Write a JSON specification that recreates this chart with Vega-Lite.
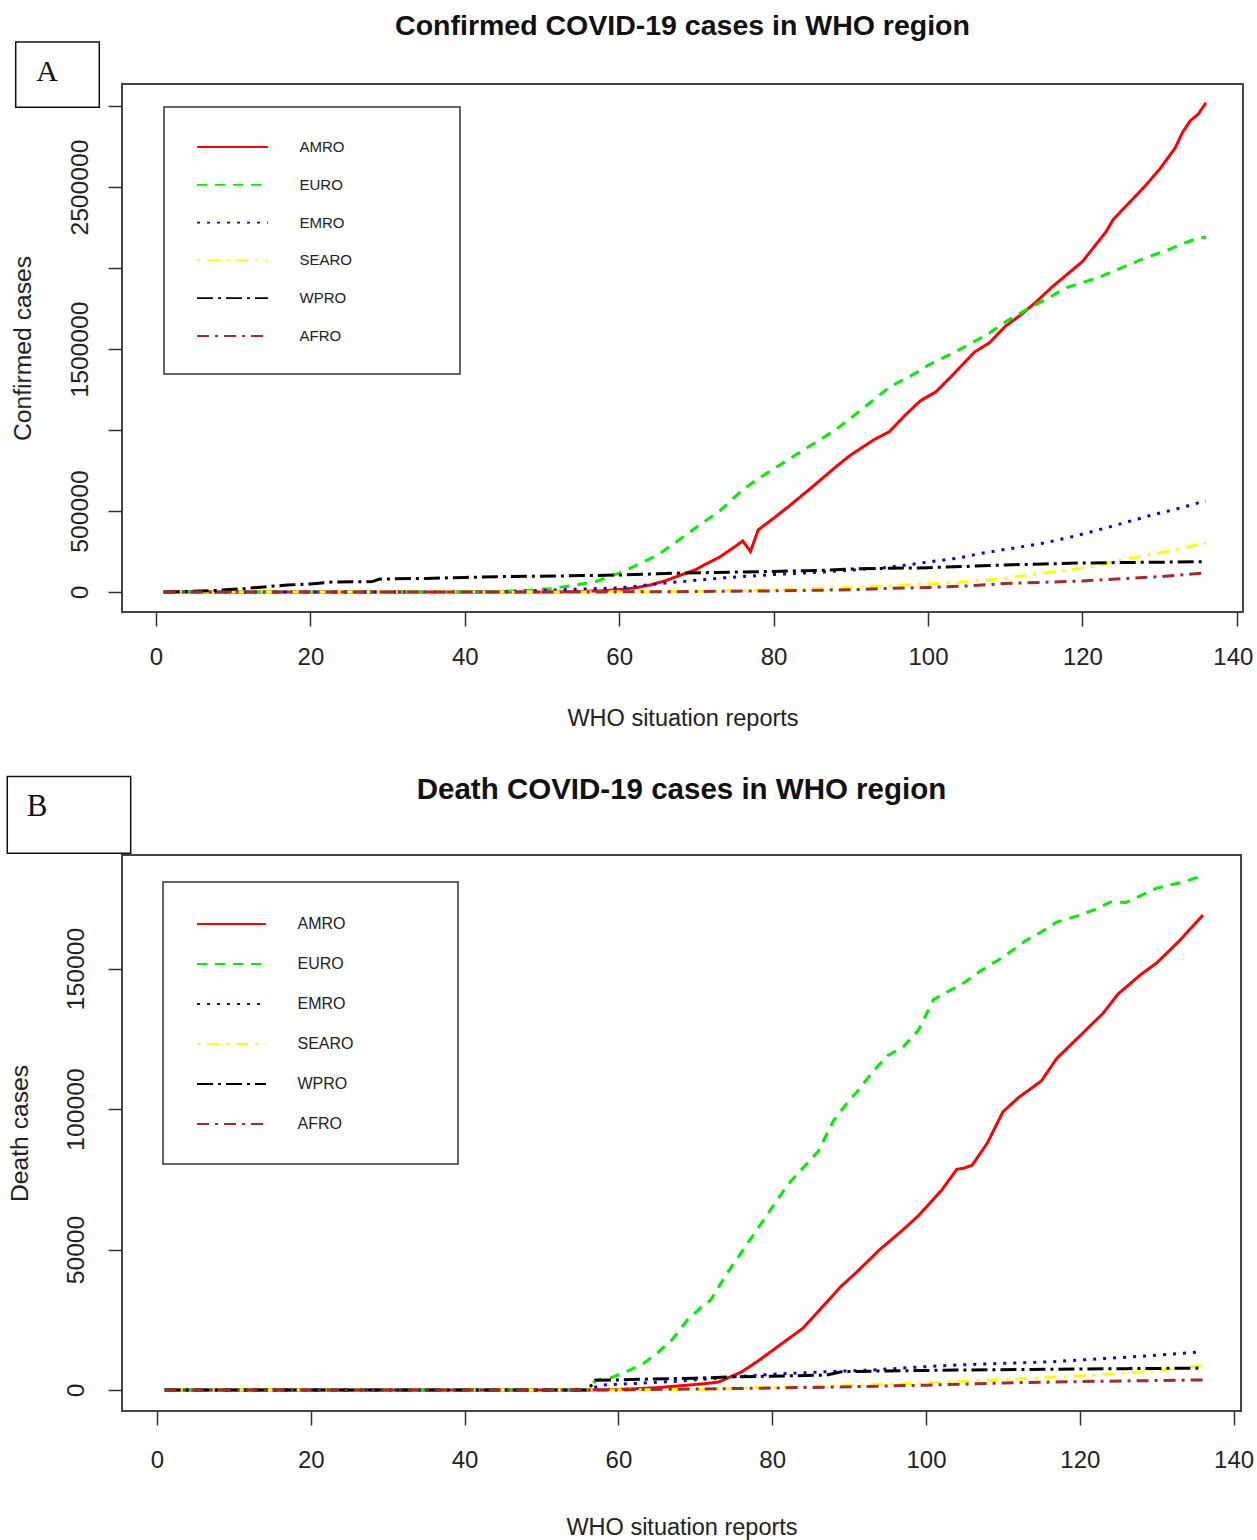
{
"$schema": "https://vega.github.io/schema/vega-lite/v6.json",
"background": "white",
"padding": {"left": 5, "top": 10, "right": 0, "bottom": 0},
"bounds": "flush",
"spacing": 243,
"config": {
  "view": {"stroke": "#444", "strokeWidth": 2},
  "font": "Liberation Sans",
  "axis": {"grid": false, "domain": false, "tickColor": "#333", "tickWidth": 1.5, "tickSize": 14, "labelColor": "#222", "titleColor": "#222", "titleFontWeight": "normal", "labelOverlap": false, "labelFlush": false},
  "legend": {"strokeColor": "#333", "strokeWidth": 1.5}
},
"datasets": {
"confirmed": [
{"report":1,"region":"AMRO","cases":0},{"report":20,"region":"AMRO","cases":20},{"report":40,"region":"AMRO","cases":70},{"report":50,"region":"AMRO","cases":700},{"report":55,"region":"AMRO","cases":3000},{"report":58,"region":"AMRO","cases":8000},{"report":60,"region":"AMRO","cases":15000},{"report":62,"region":"AMRO","cases":25000},{"report":64,"region":"AMRO","cases":43000},{"report":66,"region":"AMRO","cases":70000},{"report":68,"region":"AMRO","cases":105000},{"report":70,"region":"AMRO","cases":140000},{"report":71,"region":"AMRO","cases":167000},{"report":73,"region":"AMRO","cases":215000},{"report":75,"region":"AMRO","cases":280000},{"report":76,"region":"AMRO","cases":315000},{"report":77,"region":"AMRO","cases":250000},{"report":78,"region":"AMRO","cases":383000},{"report":80,"region":"AMRO","cases":455000},{"report":82,"region":"AMRO","cases":530000},{"report":85,"region":"AMRO","cases":648000},{"report":88,"region":"AMRO","cases":770000},{"report":90,"region":"AMRO","cases":846000},{"report":93,"region":"AMRO","cases":940000},{"report":95,"region":"AMRO","cases":990000},{"report":97,"region":"AMRO","cases":1090000},{"report":99,"region":"AMRO","cases":1180000},{"report":101,"region":"AMRO","cases":1235000},{"report":103,"region":"AMRO","cases":1330000},{"report":105,"region":"AMRO","cases":1430000},{"report":106,"region":"AMRO","cases":1480000},{"report":108,"region":"AMRO","cases":1540000},{"report":110,"region":"AMRO","cases":1640000},{"report":112,"region":"AMRO","cases":1710000},{"report":114,"region":"AMRO","cases":1790000},{"report":116,"region":"AMRO","cases":1880000},{"report":118,"region":"AMRO","cases":1960000},{"report":120,"region":"AMRO","cases":2040000},{"report":121,"region":"AMRO","cases":2100000},{"report":123,"region":"AMRO","cases":2220000},{"report":124,"region":"AMRO","cases":2300000},{"report":126,"region":"AMRO","cases":2400000},{"report":128,"region":"AMRO","cases":2500000},{"report":130,"region":"AMRO","cases":2610000},{"report":132,"region":"AMRO","cases":2740000},{"report":133,"region":"AMRO","cases":2840000},{"report":134,"region":"AMRO","cases":2910000},{"report":135,"region":"AMRO","cases":2950000},{"report":136,"region":"AMRO","cases":3020000},
{"report":1,"region":"EURO","cases":0},{"report":30,"region":"EURO","cases":50},{"report":40,"region":"EURO","cases":500},{"report":45,"region":"EURO","cases":4000},{"report":48,"region":"EURO","cases":10000},{"report":51,"region":"EURO","cases":20000},{"report":54,"region":"EURO","cases":40000},{"report":57,"region":"EURO","cases":65000},{"report":60,"region":"EURO","cases":117000},{"report":62,"region":"EURO","cases":160000},{"report":65,"region":"EURO","cases":228000},{"report":68,"region":"EURO","cases":330000},{"report":70,"region":"EURO","cases":400000},{"report":73,"region":"EURO","cases":500000},{"report":76,"region":"EURO","cases":630000},{"report":78,"region":"EURO","cases":700000},{"report":80,"region":"EURO","cases":760000},{"report":83,"region":"EURO","cases":850000},{"report":85,"region":"EURO","cases":910000},{"report":88,"region":"EURO","cases":1000000},{"report":90,"region":"EURO","cases":1074000},{"report":92,"region":"EURO","cases":1150000},{"report":95,"region":"EURO","cases":1265000},{"report":98,"region":"EURO","cases":1340000},{"report":100,"region":"EURO","cases":1400000},{"report":103,"region":"EURO","cases":1470000},{"report":105,"region":"EURO","cases":1520000},{"report":108,"region":"EURO","cases":1600000},{"report":110,"region":"EURO","cases":1667000},{"report":113,"region":"EURO","cases":1750000},{"report":115,"region":"EURO","cases":1800000},{"report":118,"region":"EURO","cases":1880000},{"report":120,"region":"EURO","cases":1910000},{"report":122,"region":"EURO","cases":1940000},{"report":125,"region":"EURO","cases":2000000},{"report":128,"region":"EURO","cases":2060000},{"report":131,"region":"EURO","cases":2110000},{"report":133,"region":"EURO","cases":2150000},{"report":135,"region":"EURO","cases":2185000},{"report":136,"region":"EURO","cases":2190000},
{"report":1,"region":"EMRO","cases":0},{"report":40,"region":"EMRO","cases":0},{"report":45,"region":"EMRO","cases":2000},{"report":50,"region":"EMRO","cases":10000},{"report":55,"region":"EMRO","cases":18000},{"report":60,"region":"EMRO","cases":25000},{"report":63,"region":"EMRO","cases":40000},{"report":66,"region":"EMRO","cases":56000},{"report":70,"region":"EMRO","cases":72000},{"report":73,"region":"EMRO","cases":86000},{"report":76,"region":"EMRO","cases":95000},{"report":79,"region":"EMRO","cases":105000},{"report":83,"region":"EMRO","cases":115000},{"report":86,"region":"EMRO","cases":123000},{"report":90,"region":"EMRO","cases":135000},{"report":94,"region":"EMRO","cases":148000},{"report":97,"region":"EMRO","cases":165000},{"report":100,"region":"EMRO","cases":185000},{"report":104,"region":"EMRO","cases":210000},{"report":107,"region":"EMRO","cases":240000},{"report":111,"region":"EMRO","cases":270000},{"report":115,"region":"EMRO","cases":302000},{"report":119,"region":"EMRO","cases":345000},{"report":123,"region":"EMRO","cases":395000},{"report":126,"region":"EMRO","cases":435000},{"report":129,"region":"EMRO","cases":475000},{"report":132,"region":"EMRO","cases":510000},{"report":135,"region":"EMRO","cases":550000},{"report":136,"region":"EMRO","cases":560000},
{"report":1,"region":"SEARO","cases":0},{"report":50,"region":"SEARO","cases":100},{"report":60,"region":"SEARO","cases":1000},{"report":65,"region":"SEARO","cases":3000},{"report":70,"region":"SEARO","cases":5000},{"report":73,"region":"SEARO","cases":8000},{"report":78,"region":"SEARO","cases":12000},{"report":83,"region":"SEARO","cases":18000},{"report":88,"region":"SEARO","cases":26000},{"report":94,"region":"SEARO","cases":37000},{"report":98,"region":"SEARO","cases":45000},{"report":104,"region":"SEARO","cases":60000},{"report":110,"region":"SEARO","cases":85000},{"report":115,"region":"SEARO","cases":117000},{"report":121,"region":"SEARO","cases":154000},{"report":125,"region":"SEARO","cases":198000},{"report":127,"region":"SEARO","cases":216000},{"report":131,"region":"SEARO","cases":250000},{"report":135,"region":"SEARO","cases":293000},{"report":136,"region":"SEARO","cases":300000},
{"report":1,"region":"WPRO","cases":0},{"report":4,"region":"WPRO","cases":3000},{"report":8,"region":"WPRO","cases":10000},{"report":11,"region":"WPRO","cases":20000},{"report":14,"region":"WPRO","cases":31000},{"report":17,"region":"WPRO","cases":43000},{"report":20,"region":"WPRO","cases":50000},{"report":23,"region":"WPRO","cases":62000},{"report":28,"region":"WPRO","cases":64000},{"report":29,"region":"WPRO","cases":80000},{"report":35,"region":"WPRO","cases":84000},{"report":40,"region":"WPRO","cases":90000},{"report":45,"region":"WPRO","cases":95000},{"report":52,"region":"WPRO","cases":99000},{"report":57,"region":"WPRO","cases":102000},{"report":61,"region":"WPRO","cases":106000},{"report":65,"region":"WPRO","cases":112000},{"report":68,"region":"WPRO","cases":117000},{"report":72,"region":"WPRO","cases":120000},{"report":75,"region":"WPRO","cases":123000},{"report":80,"region":"WPRO","cases":127000},{"report":84,"region":"WPRO","cases":131000},{"report":88,"region":"WPRO","cases":137000},{"report":90,"region":"WPRO","cases":142000},{"report":95,"region":"WPRO","cases":146000},{"report":100,"region":"WPRO","cases":150000},{"report":105,"region":"WPRO","cases":158000},{"report":110,"region":"WPRO","cases":167000},{"report":115,"region":"WPRO","cases":173000},{"report":120,"region":"WPRO","cases":179000},{"report":125,"region":"WPRO","cases":182000},{"report":130,"region":"WPRO","cases":184000},{"report":136,"region":"WPRO","cases":187000},
{"report":1,"region":"AFRO","cases":0},{"report":55,"region":"AFRO","cases":200},{"report":60,"region":"AFRO","cases":800},{"report":65,"region":"AFRO","cases":1500},{"report":70,"region":"AFRO","cases":3000},{"report":75,"region":"AFRO","cases":5000},{"report":80,"region":"AFRO","cases":7000},{"report":85,"region":"AFRO","cases":10000},{"report":90,"region":"AFRO","cases":14000},{"report":95,"region":"AFRO","cases":22000},{"report":100,"region":"AFRO","cases":28000},{"report":105,"region":"AFRO","cases":37000},{"report":110,"region":"AFRO","cases":52000},{"report":115,"region":"AFRO","cases":60000},{"report":120,"region":"AFRO","cases":68000},{"report":125,"region":"AFRO","cases":82000},{"report":130,"region":"AFRO","cases":95000},{"report":136,"region":"AFRO","cases":118000}
],
"deaths": [
{"report":1,"region":"AMRO","cases":0},{"report":56,"region":"AMRO","cases":0},{"report":60,"region":"AMRO","cases":200},{"report":65,"region":"AMRO","cases":800},{"report":68,"region":"AMRO","cases":1500},{"report":71,"region":"AMRO","cases":2200},{"report":73,"region":"AMRO","cases":2800},{"report":76,"region":"AMRO","cases":6400},{"report":78,"region":"AMRO","cases":10000},{"report":81,"region":"AMRO","cases":16000},{"report":84,"region":"AMRO","cases":22000},{"report":86,"region":"AMRO","cases":28000},{"report":89,"region":"AMRO","cases":37000},{"report":91,"region":"AMRO","cases":42000},{"report":94,"region":"AMRO","cases":50000},{"report":97,"region":"AMRO","cases":57000},{"report":99,"region":"AMRO","cases":62000},{"report":102,"region":"AMRO","cases":71000},{"report":104,"region":"AMRO","cases":78500},{"report":105,"region":"AMRO","cases":79000},{"report":106,"region":"AMRO","cases":80000},{"report":108,"region":"AMRO","cases":88000},{"report":110,"region":"AMRO","cases":99000},{"report":112,"region":"AMRO","cases":104000},{"report":115,"region":"AMRO","cases":110000},{"report":117,"region":"AMRO","cases":118000},{"report":120,"region":"AMRO","cases":126000},{"report":123,"region":"AMRO","cases":134000},{"report":125,"region":"AMRO","cases":141000},{"report":128,"region":"AMRO","cases":148000},{"report":130,"region":"AMRO","cases":152000},{"report":133,"region":"AMRO","cases":160000},{"report":136,"region":"AMRO","cases":169000},
{"report":1,"region":"EURO","cases":0},{"report":56,"region":"EURO","cases":0},{"report":57,"region":"EURO","cases":3400},{"report":59,"region":"EURO","cases":4300},{"report":61,"region":"EURO","cases":6500},{"report":63,"region":"EURO","cases":8900},{"report":65,"region":"EURO","cases":13000},{"report":67,"region":"EURO","cases":18000},{"report":69,"region":"EURO","cases":25000},{"report":71,"region":"EURO","cases":30000},{"report":72,"region":"EURO","cases":32000},{"report":74,"region":"EURO","cases":41000},{"report":77,"region":"EURO","cases":53000},{"report":80,"region":"EURO","cases":65000},{"report":82,"region":"EURO","cases":73000},{"report":84,"region":"EURO","cases":79000},{"report":86,"region":"EURO","cases":85000},{"report":88,"region":"EURO","cases":96000},{"report":90,"region":"EURO","cases":103000},{"report":91,"region":"EURO","cases":106000},{"report":93,"region":"EURO","cases":113000},{"report":95,"region":"EURO","cases":119000},{"report":97,"region":"EURO","cases":122000},{"report":99,"region":"EURO","cases":128000},{"report":101,"region":"EURO","cases":139000},{"report":103,"region":"EURO","cases":142000},{"report":105,"region":"EURO","cases":145000},{"report":107,"region":"EURO","cases":149000},{"report":110,"region":"EURO","cases":154000},{"report":113,"region":"EURO","cases":160000},{"report":115,"region":"EURO","cases":163000},{"report":117,"region":"EURO","cases":166500},{"report":120,"region":"EURO","cases":169000},{"report":122,"region":"EURO","cases":171000},{"report":124,"region":"EURO","cases":173700},{"report":126,"region":"EURO","cases":173500},{"report":128,"region":"EURO","cases":176000},{"report":130,"region":"EURO","cases":178600},{"report":133,"region":"EURO","cases":180500},{"report":136,"region":"EURO","cases":183000},
{"report":1,"region":"EMRO","cases":0},{"report":56,"region":"EMRO","cases":0},{"report":57,"region":"EMRO","cases":1000},{"report":58,"region":"EMRO","cases":1800},{"report":62,"region":"EMRO","cases":2300},{"report":67,"region":"EMRO","cases":3000},{"report":71,"region":"EMRO","cases":3800},{"report":75,"region":"EMRO","cases":4700},{"report":80,"region":"EMRO","cases":5600},{"report":87,"region":"EMRO","cases":6500},{"report":93,"region":"EMRO","cases":7100},{"report":98,"region":"EMRO","cases":8000},{"report":104,"region":"EMRO","cases":8900},{"report":110,"region":"EMRO","cases":9500},{"report":116,"region":"EMRO","cases":10000},{"report":122,"region":"EMRO","cases":11000},{"report":128,"region":"EMRO","cases":12000},{"report":133,"region":"EMRO","cases":13000},{"report":136,"region":"EMRO","cases":13600},
{"report":1,"region":"SEARO","cases":0},{"report":56,"region":"SEARO","cases":0},{"report":60,"region":"SEARO","cases":50},{"report":70,"region":"SEARO","cases":200},{"report":81,"region":"SEARO","cases":1000},{"report":90,"region":"SEARO","cases":1700},{"report":100,"region":"SEARO","cases":2500},{"report":104,"region":"SEARO","cases":3000},{"report":110,"region":"SEARO","cases":3700},{"report":116,"region":"SEARO","cases":4500},{"report":122,"region":"SEARO","cases":5300},{"report":128,"region":"SEARO","cases":6400},{"report":133,"region":"SEARO","cases":7800},{"report":136,"region":"SEARO","cases":8800},
{"report":1,"region":"WPRO","cases":0},{"report":56,"region":"WPRO","cases":0},{"report":57,"region":"WPRO","cases":3500},{"report":60,"region":"WPRO","cases":3600},{"report":64,"region":"WPRO","cases":3900},{"report":70,"region":"WPRO","cases":4200},{"report":75,"region":"WPRO","cases":4700},{"report":80,"region":"WPRO","cases":4900},{"report":87,"region":"WPRO","cases":5300},{"report":89,"region":"WPRO","cases":6500},{"report":95,"region":"WPRO","cases":6800},{"report":104,"region":"WPRO","cases":7100},{"report":116,"region":"WPRO","cases":7400},{"report":126,"region":"WPRO","cases":7600},{"report":136,"region":"WPRO","cases":7800},
{"report":1,"region":"AFRO","cases":0},{"report":60,"region":"AFRO","cases":10},{"report":64,"region":"AFRO","cases":200},{"report":75,"region":"AFRO","cases":500},{"report":87,"region":"AFRO","cases":1000},{"report":100,"region":"AFRO","cases":1700},{"report":110,"region":"AFRO","cases":2500},{"report":120,"region":"AFRO","cases":3000},{"report":128,"region":"AFRO","cases":3300},{"report":136,"region":"AFRO","cases":3600}
]
},
"vconcat": [
{
  "width": 1121, "height": 528,
  "title": {"text": "Confirmed COVID-19 cases in WHO region", "frame": "group", "anchor": "middle", "font": "Liberation Sans", "fontSize": 28.5, "fontWeight": "bold", "color": "#111", "offset": 1},
  "layer": [
    {
      "data": {"name": "confirmed"},
      "mark": {"type": "line", "strokeWidth": 3},
      "encoding": {
        "x": {"field": "report", "type": "quantitative", "scale": {"domain": [-4.4, 140.8], "nice": false, "zero": false},
              "axis": {"values": [0,20,40,60,80,100,120,140], "labelFontSize": 24, "labelPadding": 19, "labelOffset": {"condition": {"test": "datum.value == 140", "value": -4}, "value": 0}, "title": "WHO situation reports", "titleFontSize": 23.5, "titlePadding": 37}},
        "y": {"field": "cases", "type": "quantitative", "scale": {"domain": [-123500, 3136000], "nice": false, "zero": false},
              "axis": {"values": [0,500000,1000000,1500000,2000000,2500000,3000000], "format": "d", "labelExpr": "datum.value == 1000000 || datum.value == 2000000 || datum.value == 3000000 ? '' : datum.label", "labelAngle": -90, "labelAlign": "center", "labelBaseline": "bottom", "labelFontSize": 24.7, "labelPadding": 16, "title": "Confirmed cases", "titleFontSize": 24.7, "titlePadding": 32}},
        "color": {"field": "region", "type": "nominal",
                  "scale": {"domain": ["AMRO","EURO","EMRO","SEARO","WPRO","AFRO"], "range": ["#ff0000","#00ee00","#0000ff","#ffff00","#000000","#a52a2a"]},
                  "legend": {"orient": "none", "legendX": 42, "legendY": 23, "title": "\u00a0", "titleOrient": "right", "titlePadding": 78, "titleFontSize": 15, "symbolType": "M-3.94,0H3.94", "symbolSize": 324, "symbolStrokeWidth": 1.8, "symbolOffset": 28.5, "labelOffset": 57, "labelFont": "Liberation Sans", "labelFontSize": 15, "labelColor": "#222", "labelLimit": 400, "padding": 30, "rowPadding": 19.8}},
        "strokeDash": {"field": "region", "type": "nominal",
                  "scale": {"domain": ["AMRO","EURO","EMRO","SEARO","WPRO","AFRO"], "range": [[1,0],[10,8],[3,7],[3,7,12,7],[16,5,3,5],[12,6,3,6]]},
                  "legend": {"orient": "none", "legendX": 42, "legendY": 23, "title": "\u00a0", "titleOrient": "right", "titlePadding": 78, "titleFontSize": 15, "symbolType": "M-3.94,0H3.94", "symbolSize": 324, "symbolStrokeWidth": 1.8, "symbolOffset": 28.5, "labelOffset": 57, "labelFont": "Liberation Sans", "labelFontSize": 15, "labelColor": "#222", "labelLimit": 400, "padding": 30, "rowPadding": 19.8}}
      }
    },
    {
      "data": {"values": [{}]},
      "mark": {"type": "rect", "fill": "white", "stroke": "#111", "strokeWidth": 1.5},
      "encoding": {"x": {"datum": -18.17, "type": "quantitative"}, "x2": {"datum": -7.34}, "y": {"datum": 3395000, "type": "quantitative"}, "y2": {"datum": 2992000}}
    },
    {
      "data": {"values": [{}]},
      "mark": {"type": "text", "text": "A", "font": "Liberation Serif", "fontSize": 30, "color": "#111", "align": "center", "baseline": "middle"},
      "encoding": {"x": {"datum": -14.12, "type": "quantitative"}, "y": {"datum": 3213000, "type": "quantitative"}}
    }
  ]
},
{
  "width": 1119, "height": 556,
  "title": {"text": "Death COVID-19 cases in WHO region", "frame": "group", "anchor": "middle", "font": "Liberation Sans", "fontSize": 29.5, "fontWeight": "bold", "color": "#111", "offset": -30},
  "layer": [
    {
      "data": {"name": "deaths"},
      "mark": {"type": "line", "strokeWidth": 3},
      "encoding": {
        "x": {"field": "report", "type": "quantitative", "scale": {"domain": [-4.55, 140.96], "nice": false, "zero": false},
              "axis": {"values": [0,20,40,60,80,100,120,140], "labelFontSize": 24, "labelPadding": 23, "title": "WHO situation reports", "titleFontSize": 23.5, "titlePadding": 43}},
        "y": {"field": "cases", "type": "quantitative", "scale": {"domain": [-7474, 190400], "nice": false, "zero": false},
              "axis": {"values": [0,50000,100000,150000], "format": "d", "labelAngle": -90, "labelAlign": "center", "labelBaseline": "bottom", "labelFontSize": 24.7, "labelPadding": 20, "title": "Death cases", "titleFontSize": 24.7, "titlePadding": 31}},
        "color": {"field": "region", "type": "nominal",
                  "scale": {"domain": ["AMRO","EURO","EMRO","SEARO","WPRO","AFRO"], "range": ["#ff0000","#00ee00","#0000ff","#ffff00","#000000","#a52a2a"]},
                  "legend": {"orient": "none", "legendX": 41, "legendY": 27, "title": "\u00a0", "titleOrient": "right", "titlePadding": 72, "titleFontSize": 16, "symbolType": "M-3.83,0H3.83", "symbolSize": 324, "symbolStrokeWidth": 1.8, "symbolOffset": 26.5, "labelOffset": 56, "labelFont": "Liberation Sans", "labelFontSize": 16, "labelColor": "#222", "labelLimit": 400, "padding": 32, "rowPadding": 22}},
        "strokeDash": {"field": "region", "type": "nominal",
                  "scale": {"domain": ["AMRO","EURO","EMRO","SEARO","WPRO","AFRO"], "range": [[1,0],[10,8],[3,7],[3,7,12,7],[16,5,3,5],[12,6,3,6]]},
                  "legend": {"orient": "none", "legendX": 41, "legendY": 27, "title": "\u00a0", "titleOrient": "right", "titlePadding": 72, "titleFontSize": 16, "symbolType": "M-3.83,0H3.83", "symbolSize": 324, "symbolStrokeWidth": 1.8, "symbolOffset": 26.5, "labelOffset": 56, "labelFont": "Liberation Sans", "labelFontSize": 16, "labelColor": "#222", "labelLimit": 400, "padding": 32, "rowPadding": 22}}
      }
    },
    {
      "data": {"values": [{}]},
      "mark": {"type": "rect", "fill": "white", "stroke": "#111", "strokeWidth": 1.5},
      "encoding": {"x": {"datum": -19.47, "type": "quantitative"}, "x2": {"datum": -3.42}, "y": {"datum": 218300, "type": "quantitative"}, "y2": {"datum": 191000}}
    },
    {
      "data": {"values": [{}]},
      "mark": {"type": "text", "text": "B", "font": "Liberation Serif", "fontSize": 31, "color": "#111", "align": "center", "baseline": "middle"},
      "encoding": {"x": {"datum": -15.6, "type": "quantitative"}, "y": {"datum": 207600, "type": "quantitative"}}
    }
  ]
}
],
"resolve": {"scale": {"color": "independent", "strokeDash": "independent", "x": "independent", "y": "independent"}, "legend": {"color": "independent", "strokeDash": "independent"}}
}
